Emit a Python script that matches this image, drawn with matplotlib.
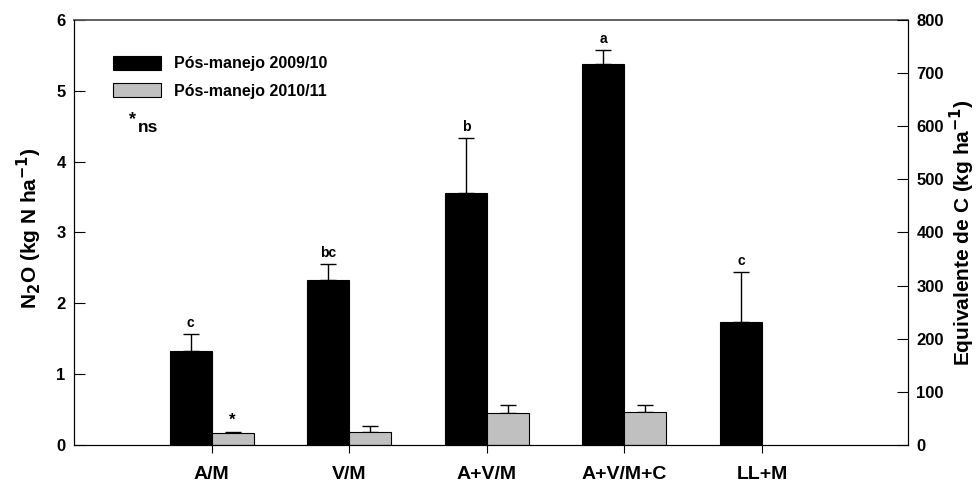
import matplotlib
matplotlib.use('Agg')
import matplotlib.pyplot as plt
import numpy as np

plt.rcParams['font.family'] = ['Liberation Sans', 'DejaVu Sans']
plt.rcParams['font.weight'] = 'bold'

labels = ['A/M', 'V/M', 'A+V/M', 'A+V/M+C', 'LL+M']
n2o_0910 = [1.32, 2.33, 3.56, 5.38, 1.73]
err_0910 = [0.25, 0.22, 0.77, 0.19, 0.71]
n2o_1011 = [0.17, 0.19, 0.45, 0.46, np.nan]
err_1011 = [0.02, 0.08, 0.11, 0.10, np.nan]
letters_0910 = ['c', 'bc', 'b', 'a', 'c']
letters_1011 = ['*', '', '', '', '']

x = np.arange(len(labels))
width = 0.305

fig = plt.figure(figsize=(9.8, 4.83), dpi=100)
ax = fig.add_axes([0.0755, 0.0787, 0.851, 0.880])

b1 = ax.bar(x - width/2, n2o_0910, width, color='black', edgecolor='black',
            linewidth=0.8, label='Pós-manejo 2009/10', zorder=2)
b2 = ax.bar(x + width/2, n2o_1011, width, color='#c0c0c0', edgecolor='black',
            linewidth=0.8, label='Pós-manejo 2010/11', zorder=2)

# upper error bars only
ax.errorbar(x - width/2, n2o_0910, yerr=[np.zeros(5), err_0910], fmt='none',
            ecolor='black', elinewidth=1, capsize=5.5, capthick=1, zorder=1)
ax.errorbar(x + width/2, n2o_1011, yerr=[np.zeros(5), err_1011], fmt='none',
            ecolor='black', elinewidth=1, capsize=5.5, capthick=1, zorder=1)

for xi, v, e, t in zip(x - width/2, n2o_0910, err_0910, letters_0910):
    ax.annotate(t, xy=(xi, v + e), xytext=(0, 3), textcoords='offset points',
                ha='center', va='bottom', fontsize=10, fontweight='bold')
for xi, v, e, t in zip(x + width/2, n2o_1011, err_1011, letters_1011):
    if t:
        ax.annotate(t, xy=(xi, v + e), xytext=(0, 3), textcoords='offset points',
                    ha='center', va='bottom', fontsize=12, fontweight='bold')

ax.set_xlim(-1, 5.06)
ax.set_ylim(0, 6)
ax.set_xticks(x)
ax.set_xticklabels(labels, fontsize=14, fontweight='bold')
ax.set_yticks(range(0, 7))
ax.tick_params(axis='y', direction='in', length=8, labelsize=12, pad=6)
ax.tick_params(axis='x', direction='out', length=6, pad=9)
ax.set_ylabel('N$_\\mathbf{2}$O (kg N ha$^\\mathbf{-1}$)', fontsize=15,
              fontweight='bold')
ax.yaxis.set_label_coords(-0.036, 0.51)
ax.spines['top'].set_color('#555555')
ax.spines['top'].set_linewidth(1.3)

ax2 = ax.twinx()
ax2.set_ylim(0, 800)
ax2.set_yticks(range(0, 801, 100))
ax2.tick_params(axis='y', direction='in', length=8, labelsize=12, pad=6)
ax2.set_ylabel('Equivalente de C (kg ha$^\\mathbf{-1}$)', fontsize=15,
               fontweight='bold', labelpad=3)
ax2.spines['top'].set_visible(False)

leg = ax.legend(loc='upper left', bbox_to_anchor=(0.03, 0.95), frameon=False,
                fontsize=11.5, handlelength=3.0, handleheight=1.0, labelspacing=0.75)
ax.text(0.0665, 0.765, '*', transform=ax.transAxes, fontsize=13,
        fontweight='bold', ha='left', va='center')
ax.text(0.0765, 0.748, 'ns', transform=ax.transAxes, fontsize=12.5,
        fontweight='bold', ha='left', va='center')

fig.savefig('out.png', dpi=100)
